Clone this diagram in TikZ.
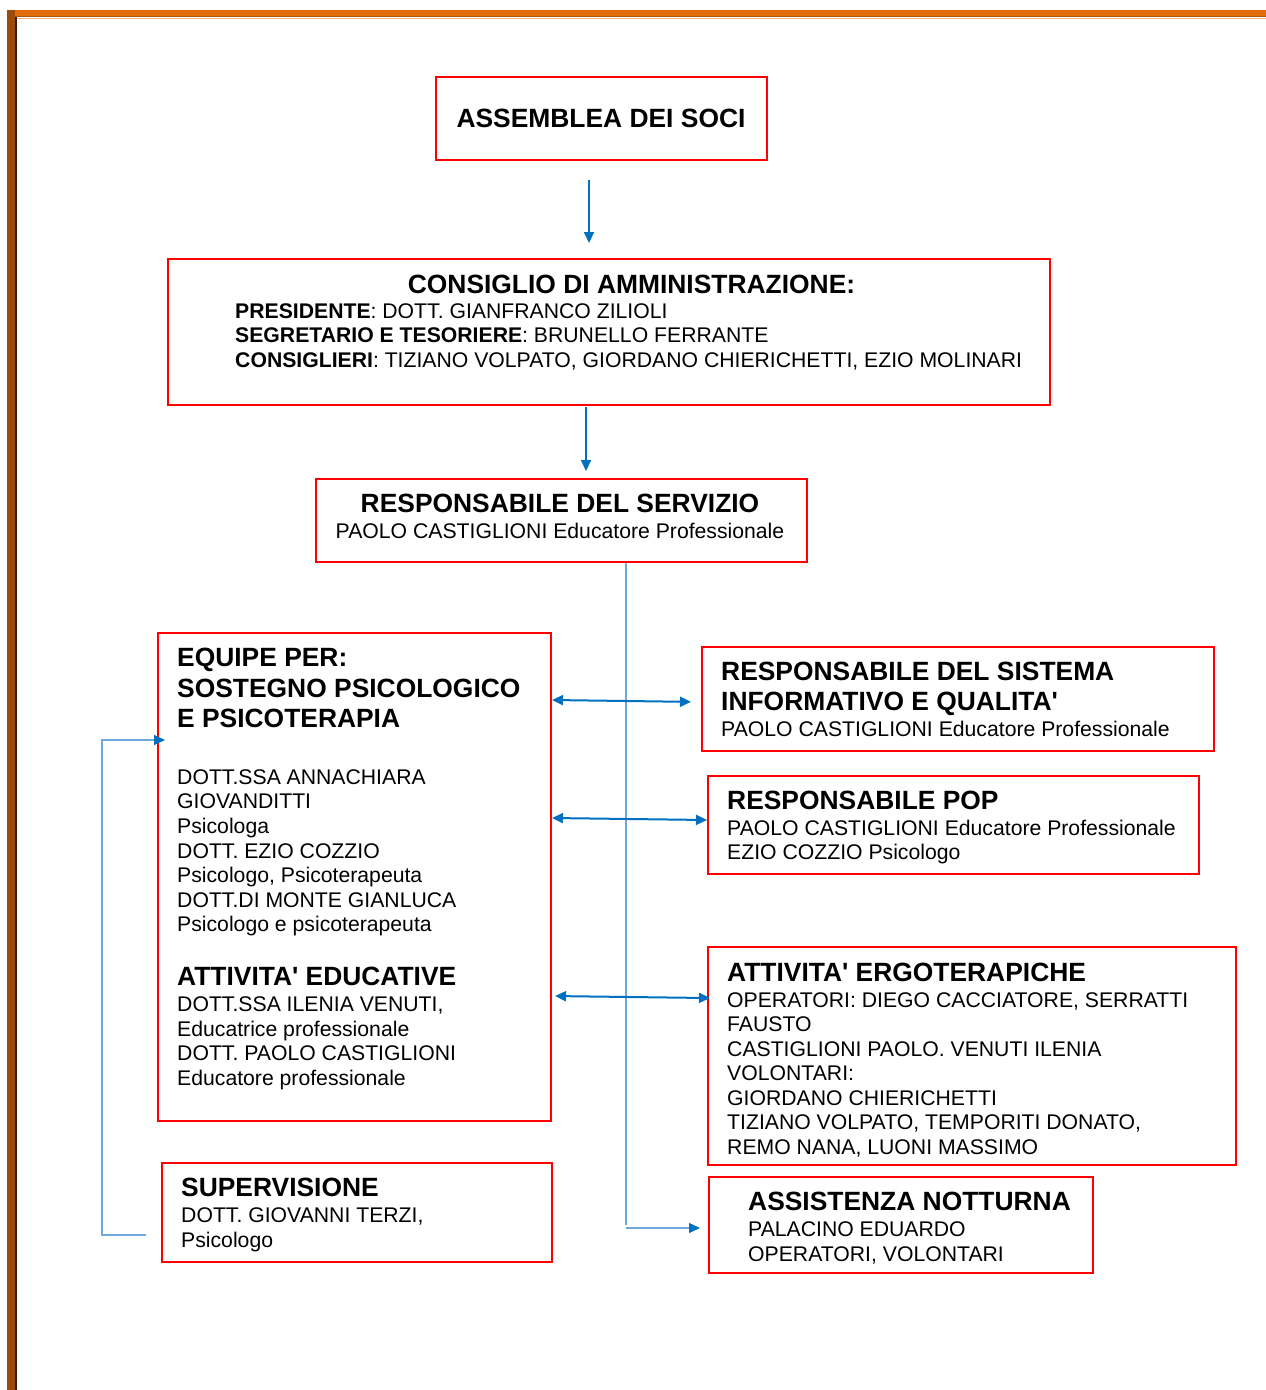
\documentclass[tikz,border=0pt]{standalone}
\usepackage{fontspec}
\setmainfont{Liberation Sans}[Ligatures=TeXOff]
\usetikzlibrary{arrows.meta,calc}
\definecolor{boxred}{HTML}{FF0000}
\definecolor{arrblue}{HTML}{0070C0}
\definecolor{lineblue}{HTML}{6FA8DC}
\definecolor{frameorange}{HTML}{E36C09}
\definecolor{frameshade}{HTML}{A85A14}
\definecolor{framelight}{HTML}{F4B183}
\definecolor{framebrown}{HTML}{9E4A0A}
\definecolor{framedark}{HTML}{3A1C08}
\newcommand{\bodyfont}{\fontsize{21.2}{24.5}\selectfont}
\newcommand{\headfont}{\fontsize{26.4}{30.5}\selectfont\bfseries}
\tikzset{
  box/.style={draw=boxred, line width=2pt, inner sep=0pt, anchor=north west, rectangle},
  tx/.style={anchor=base west, inner sep=0pt, font=\bodyfont},
  hd/.style={anchor=base west, inner sep=0pt, font=\headfont},
  tipb/.tip={Triangle[length=11pt,width=10pt]},
  arr/.style={draw=arrblue, line width=2pt, -tipb},
  darr/.style={draw=arrblue, line width=2pt, tipb-tipb},
  conn/.style={draw=lineblue, line width=1.2pt, -{Triangle[length=11pt,width=10pt,color=arrblue]}},
  plain/.style={draw=lineblue, line width=1.2pt}
}
\begin{document}
\begin{tikzpicture}[x=1pt,y=-1pt]
\useasboundingbox (0,0) rectangle (1266,1390);
% frame
\fill[frameorange] (7,10) rectangle (1266,16.5);
\draw[frameshade, line width=1.2pt] (14,16.8) -- (1266,16.8);
\draw[framelight, line width=1pt] (16,18.2) -- (1266,18.2);
\fill[framebrown] (7,10) rectangle (14.5,1390);
\draw[framedark, line width=2pt] (15.5,17) -- (15.5,1390);

% boxes
\node[box, minimum width=331pt, minimum height=83pt] (asm) at (435,76) {};
\node[box, minimum width=882pt, minimum height=146pt] (cda) at (167,258) {};
\node[box, minimum width=491pt, minimum height=83pt] (rds) at (315,478) {};
\node[box, minimum width=393pt, minimum height=488pt] (eq) at (157,632) {};
\node[box, minimum width=390pt, minimum height=99pt] (sup) at (161,1162) {};
\node[box, minimum width=512pt, minimum height=104pt] (sis) at (701,646) {};
\node[box, minimum width=491pt, minimum height=98pt] (pop) at (707,775) {};
\node[box, minimum width=528pt, minimum height=218pt] (erg) at (707,946) {};
\node[box, minimum width=384pt, minimum height=96pt] (ass) at (708,1176) {};

% texts
\node[hd, anchor=base] (asmT) at (601,127.5) {ASSEMBLEA DEI SOCI};

\node[hd, anchor=base] (cdaT) at (631.5,293.5) {CONSIGLIO DI AMMINISTRAZIONE:};
\node[tx] (cda1) at (235,318.6) {\textbf{PRESIDENTE}: DOTT. GIANFRANCO ZILIOLI};
\node[tx] (cda2) at (235,342.6) {\textbf{SEGRETARIO E TESORIERE}: BRUNELLO FERRANTE};
\node[tx] (cda3) at (235,367.6) {\textbf{CONSIGLIERI}: TIZIANO VOLPATO, GIORDANO CHIERICHETTI, EZIO MOLINARI};

\node[hd, anchor=base] (rdsT) at (560,512.5) {RESPONSABILE DEL SERVIZIO};
\node[tx, anchor=base] (rds1) at (560,538.6) {PAOLO CASTIGLIONI Educatore Professionale};

\node[hd] (eqT1) at (177,666.5) {EQUIPE PER:};
\node[hd] (eqT2) at (177,697.5) {SOSTEGNO PSICOLOGICO};
\node[hd] (eqT3) at (177,727.5) {E PSICOTERAPIA};
\node[tx] (eq1) at (177,784.6) {DOTT.SSA ANNACHIARA};
\node[tx] (eq2) at (177,808.6) {GIOVANDITTI};
\node[tx] (eq3) at (177,833.6) {Psicologa};
\node[tx] (eq4) at (177,858.6) {DOTT. EZIO COZZIO};
\node[tx] (eq5) at (177,882.6) {Psicologo, Psicoterapeuta};
\node[tx] (eq6) at (177,907.6) {DOTT.DI MONTE GIANLUCA};
\node[tx] (eq7) at (177,931.6) {Psicologo e psicoterapeuta};
\node[hd] (eqT4) at (177,985.5) {ATTIVITA' EDUCATIVE};
\node[tx] (eq8) at (177,1011.6) {DOTT.SSA ILENIA VENUTI,};
\node[tx] (eq9) at (177,1036.6) {Educatrice professionale};
\node[tx] (eq10) at (177,1060.6) {DOTT. PAOLO CASTIGLIONI};
\node[tx] (eq11) at (177,1085.6) {Educatore professionale};

\node[hd] (supT) at (181,1196.5) {SUPERVISIONE};
\node[tx] (sup1) at (181,1222.6) {DOTT. GIOVANNI TERZI,};
\node[tx] (sup2) at (181,1247.6) {Psicologo};

\node[hd] (sisT1) at (721,680.5) {RESPONSABILE DEL SISTEMA};
\node[hd] (sisT2) at (721,710.5) {INFORMATIVO E QUALITA'};
\node[tx] (sis1) at (721,736.6) {PAOLO CASTIGLIONI Educatore Professionale};

\node[hd] (popT) at (727,809.5) {RESPONSABILE POP};
\node[tx] (pop1) at (727,835.6) {PAOLO CASTIGLIONI Educatore Professionale};
\node[tx] (pop2) at (727,859.6) {EZIO COZZIO Psicologo};

\node[hd] (ergT) at (727,981.5) {ATTIVITA' ERGOTERAPICHE};
\node[tx] (erg1) at (727,1007.6) {OPERATORI: DIEGO CACCIATORE, SERRATTI};
\node[tx] (erg2) at (727,1031.6) {FAUSTO};
\node[tx] (erg3) at (727,1056.6) {CASTIGLIONI PAOLO. VENUTI ILENIA};
\node[tx] (erg4) at (727,1080.6) {VOLONTARI:};
\node[tx] (erg5) at (727,1105.6) {GIORDANO CHIERICHETTI};
\node[tx] (erg6) at (727,1129.6) {TIZIANO VOLPATO, TEMPORITI DONATO,};
\node[tx] (erg7) at (727,1154.6) {REMO NANA, LUONI MASSIMO};

\node[hd] (assT) at (748,1210.5) {ASSISTENZA NOTTURNA};
\node[tx] (ass1) at (748,1236.6) {PALACINO EDUARDO};
\node[tx] (ass2) at (748,1261.6) {OPERATORI, VOLONTARI};

% connectors
\coordinate (xa) at (589,0);
\coordinate (xb) at (586,0);
\coordinate (xc) at (626,0);
\draw[arr, shorten <=19pt, shorten >=15pt] (asm.south -| xa) -- (cda.north -| xa);
\draw[arr, shorten <=1pt, shorten >=7pt] (cda.south -| xb) -- (rds.north -| xb);

\draw[plain] (rds.south -| xc) -- (xc |- ass.west);
\draw[conn, shorten >=8pt] (626,1228) -- (ass.west |- 0,1228);

\draw[darr, shorten >=10pt] (eq.east |- 0,700) -- (sis.west |- 0,702);
\draw[darr] (eq.east |- 0,818) -- (pop.west |- 0,820);
\draw[darr, shorten <=3pt, shorten >=-3pt] (eq.east |- 0,996) -- (erg.west |- 0,998);

\draw[conn, shorten <=15pt, shorten >=-8pt] (sup.west |- 0,1235) -- ++(-59,0) |- (eq.west |- 0,740);
\end{tikzpicture}
\end{document}
